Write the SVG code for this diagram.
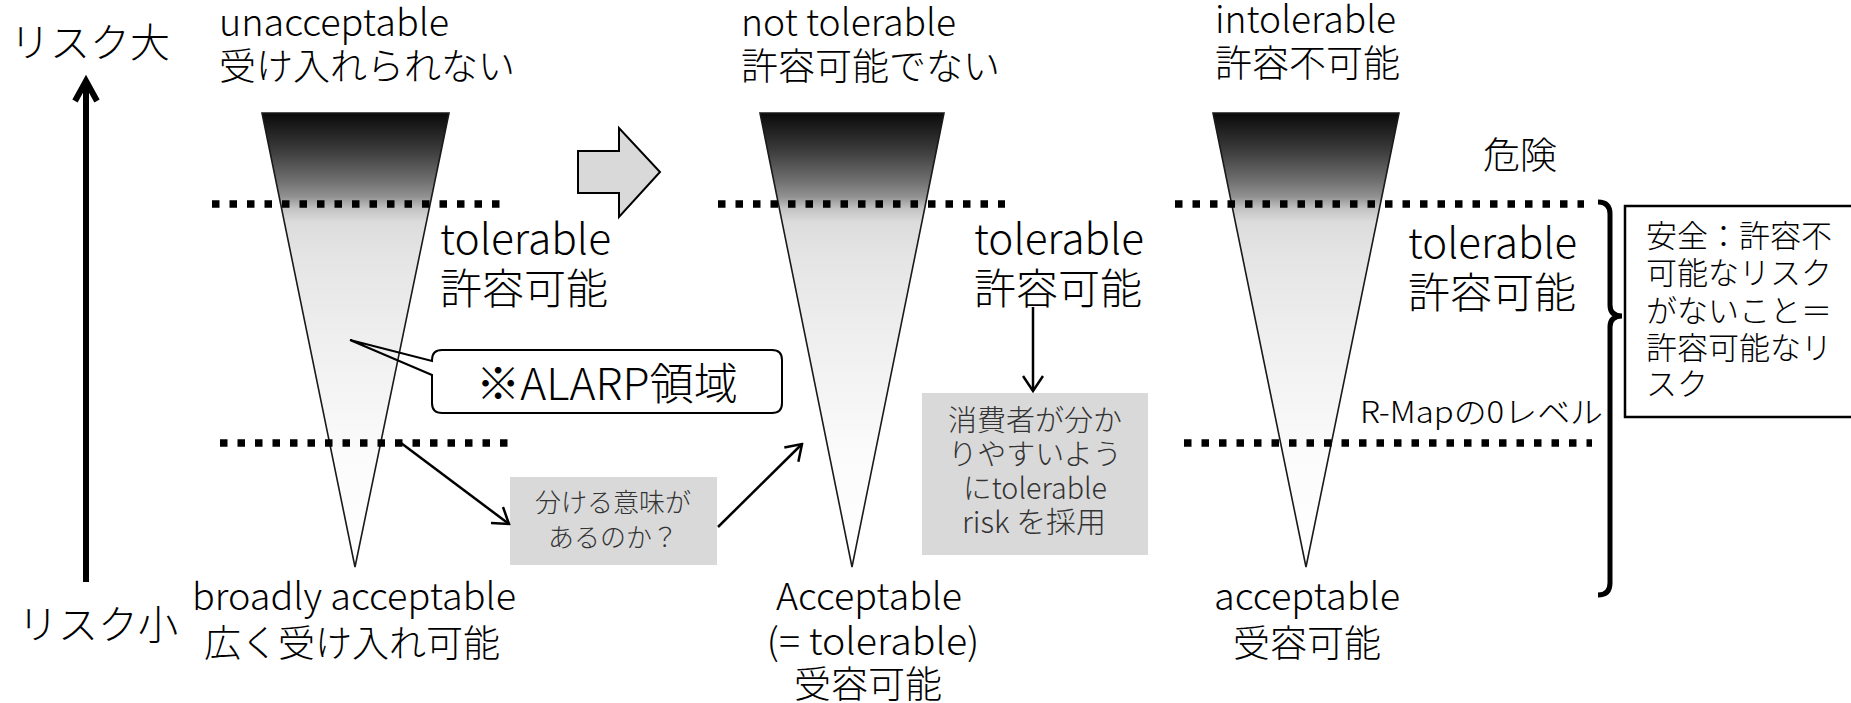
<svg xmlns="http://www.w3.org/2000/svg" width="1851" height="703" viewBox="0 0 1851 703">
<style>
text{font-family:'Noto Sans CJK JP','Noto Sans',sans-serif;font-weight:300;fill:#000}
.lab{font-size:37px}
.tol{font-size:42px}
.ax{font-size:40px}
.g1{font-size:26px;fill:#333}
.g2{font-size:29px;fill:#333}
.g3{font-size:31px}
.funnel{fill:url(#fg);stroke:#1a1a1a;stroke-width:1.6}
.dots{stroke:#000;stroke-width:7.5;stroke-dasharray:7.5 10;fill:none}
.conn{stroke:#000;stroke-width:2.5;fill:none;marker-end:url(#ah)}
.gray{fill:#d9d9d9}
</style>
<defs>
<linearGradient id="fg" gradientUnits="userSpaceOnUse" x1="0" y1="113" x2="0" y2="567">
<stop offset="0" stop-color="#0a0a0a"/>
<stop offset="0.08" stop-color="#3a3a3a"/>
<stop offset="0.15" stop-color="#707070"/>
<stop offset="0.185" stop-color="#929292"/>
<stop offset="0.21" stop-color="#c2c2c2"/>
<stop offset="0.24" stop-color="#dcdcdc"/>
<stop offset="0.32" stop-color="#e5e5e5"/>
<stop offset="0.48" stop-color="#eeeeee"/>
<stop offset="0.63" stop-color="#f5f5f5"/>
<stop offset="0.75" stop-color="#fbfbfb"/>
<stop offset="1" stop-color="#ffffff"/>
</linearGradient>
<marker id="ah" markerUnits="userSpaceOnUse" viewBox="0 0 18 22" refX="16" refY="11" markerWidth="18" markerHeight="22" orient="auto">
<path d="M1,1 L16,11 L1,21" fill="none" stroke="#000" stroke-width="2.5"/>
</marker>
</defs>

<g id="axis">
<path d="M86,582 V84" stroke="#000" stroke-width="6" fill="none"/>
<path d="M75,101 L86,81 L97,101" stroke="#000" stroke-width="6" fill="none" stroke-linejoin="miter"/>
<text class="ax" x="10" y="57">リスク大</text>
<text class="ax" x="18" y="639">リスク小</text>
</g>

<g id="funnel1">
<polygon class="funnel" points="262,113 449,113 355,567"/>
<text class="lab" x="219" y="36" font-size="34" textLength="230" lengthAdjust="spacingAndGlyphs">unacceptable</text>
<text class="lab" x="219" y="80">受け入れられない</text>
<text class="tol" x="440" y="254" textLength="171" lengthAdjust="spacingAndGlyphs">tolerable</text>
<text class="tol" x="440" y="304">許容可能</text>
<text class="lab" x="192" y="610" textLength="324" lengthAdjust="spacingAndGlyphs">broadly acceptable</text>
<text class="lab" x="204" y="657">広く受け入れ可能</text>
</g>

<g id="funnel2">
<polygon class="funnel" points="760,113 944,113 852,567"/>
<text class="lab" x="741" y="36" textLength="215" lengthAdjust="spacingAndGlyphs">not tolerable</text>
<text class="lab" x="741" y="80">許容可能でない</text>
<text class="tol" x="974" y="254" textLength="170" lengthAdjust="spacingAndGlyphs">tolerable</text>
<text class="tol" x="974" y="304">許容可能</text>
<text class="lab" x="869" y="610" text-anchor="middle" textLength="186" lengthAdjust="spacingAndGlyphs">Acceptable</text>
<text class="lab" x="873" y="655" text-anchor="middle" textLength="213" lengthAdjust="spacingAndGlyphs">(= tolerable)</text>
<text class="lab" x="868" y="698" text-anchor="middle">受容可能</text>
</g>

<g id="funnel3">
<polygon class="funnel" points="1213,113 1399,113 1306,567"/>
<text class="lab" x="1215" y="33" textLength="181" lengthAdjust="spacingAndGlyphs">intolerable</text>
<text class="lab" x="1215" y="77">許容不可能</text>
<text class="lab" x="1483" y="169">危険</text>
<text class="tol" x="1408" y="258" textLength="169" lengthAdjust="spacingAndGlyphs">tolerable</text>
<text class="tol" x="1408" y="308">許容可能</text>
<text x="1360" y="423" font-size="30" textLength="243" lengthAdjust="spacingAndGlyphs">R-Mapの0レベル</text>
<text class="lab" x="1307" y="610" text-anchor="middle" textLength="186" lengthAdjust="spacingAndGlyphs">acceptable</text>
<text class="lab" x="1307" y="657" text-anchor="middle">受容可能</text>
</g>

<g id="levels">
<path class="dots" d="M212,204 H500"/>
<path class="dots" d="M220,443 H510"/>
<path class="dots" d="M718,204 H1005"/>
<path class="dots" d="M1175,204 H1584"/>
<path class="dots" d="M1184,443 H1592"/>
</g>

<g id="callout">
<path d="M442,350 H772 Q782,350 782,360 V403 Q782,413 772,413 H442 Q432,413 432,403 V375 L350,340 L432,361 V360 Q432,350 442,350 Z" fill="none" stroke="#000" stroke-width="2"/>
<text x="607" y="400" text-anchor="middle" font-size="44" textLength="262" lengthAdjust="spacingAndGlyphs">※ALARP領域</text>
</g>

<g id="shift-arrow">
<polygon points="578,151 619,151 619,128 660,172 619,217 619,193 578,193" fill="#d9d9d9" stroke="#000" stroke-width="2"/>
</g>

<g id="question">
<rect class="gray" x="510" y="477" width="207" height="88"/>
<text class="g1" x="613" y="512" text-anchor="middle">分ける意味が</text>
<text class="g1" x="613" y="547" text-anchor="middle">あるのか？</text>
</g>

<g id="consumer">
<rect class="gray" x="922" y="393" width="226" height="162"/>
<text class="g2" x="1035" y="431" text-anchor="middle">消費者が分か</text>
<text class="g2" x="1035" y="465" text-anchor="middle">りやすいよう</text>
<text class="g2" x="1035" y="499" text-anchor="middle" textLength="144" lengthAdjust="spacingAndGlyphs">にtolerable</text>
<text class="g2" x="1034" y="533" text-anchor="middle" textLength="144" lengthAdjust="spacingAndGlyphs">risk を採用</text>
</g>

<g id="safety">
<path d="M1598,202 Q1610,202 1610,214 V305 Q1610,316 1622,316 Q1610,316 1610,327 V583 Q1610,595 1598,595" fill="none" stroke="#000" stroke-width="5"/>
<rect x="1625" y="206" width="260" height="211" fill="#fff" stroke="#000" stroke-width="2.5"/>
<text class="g3" x="1646" y="247">安全：許容不</text>
<text class="g3" x="1646" y="284">可能なリスク</text>
<text class="g3" x="1646" y="322">がないこと＝</text>
<text class="g3" x="1646" y="359">許容可能なリ</text>
<text class="g3" x="1646" y="395">スク</text>
</g>

<g id="connectors">
<path class="conn" d="M401,443 L509,524"/>
<path class="conn" d="M718,527 L802,444"/>
<path class="conn" d="M1033,307 L1033,391"/>
</g>
</svg>
